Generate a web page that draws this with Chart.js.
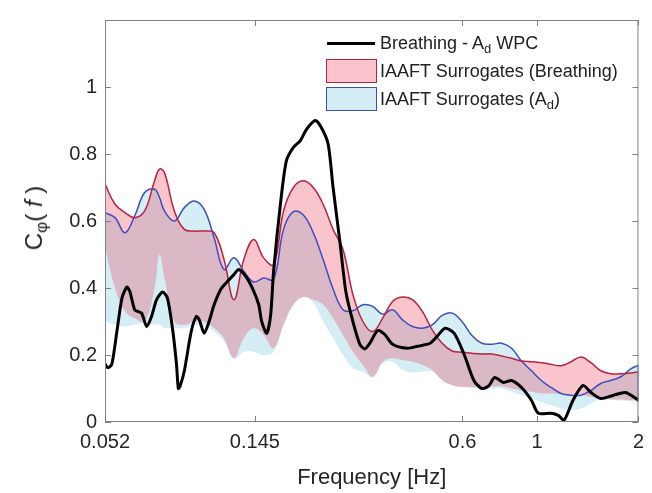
<!DOCTYPE html>
<html>
<head>
<meta charset="utf-8">
<script src="https://cdn.jsdelivr.net/npm/chart.js@4.4.1/dist/chart.umd.min.js"></script>
<style>
    body { margin: 0; background: #fff; }
    #wrap { position: relative; width: 652px; height: 493px; }
    #ytitle {
        position: absolute; left: 34px; top: 218px;
        transform: translate(-50%, -50%) rotate(-90deg);
        font: 24px "Liberation Sans", Arial, sans-serif; color: #222; white-space: nowrap;
    }
    .leg { position: absolute; font: 18px "Liberation Sans", Arial, sans-serif; color: #222; white-space: nowrap; line-height: 20px; }
    .sw { position: absolute; box-sizing: border-box; }
    sub { font-size: 0.72em; vertical-align: -0.3em; line-height: 0; }
</style>
</head>
<body>
<div id="wrap">
    <canvas id="chart" width="652" height="493"></canvas>
    <div id="ytitle">C<sub>φ</sub>( <i>f</i> )</div>
    <div class="sw" style="left:327px;top:42px;width:48px;height:3px;background:#000"></div>
    <div class="leg" style="left:380px;top:33px">Breathing - A<sub>d</sub> WPC</div>
    <div class="sw" style="left:326px;top:59px;width:51px;height:24px;border:1.5px solid #b8233f;background:rgba(235,60,85,0.3)"></div>
    <div class="leg" style="left:380px;top:61px">IAAFT Surrogates (Breathing)</div>
    <div class="sw" style="left:326px;top:87px;width:51px;height:24px;border:1.5px solid #3c4fc2;background:rgba(135,206,225,0.35)"></div>
    <div class="leg" style="left:380px;top:89px">IAAFT Surrogates (A<sub>d</sub>)</div>
</div>
<script>
// axis ticks
const xTicks = [0.052, 0.145, 0.6, 1, 2];
const xTickLabels = ['0.052', '0.145', '0.6', '1', '2'];
const yTicks = [0, 0.2, 0.4, 0.6, 0.8, 1];
const yTickLabels = ['0', '0.2', '0.4', '0.6', '0.8', '1'];

// frequency grid of the surrogate bands (Hz)
const freq = [0.052, 0.0557, 0.0596, 0.0637, 0.0682, 0.0730, 0.0755, 0.0781, 0.0836, 0.0895,
    0.0958, 0.1025, 0.1097, 0.1174, 0.1256, 0.1344, 0.1439, 0.1540, 0.1648, 0.1764,
    0.1887, 0.2020, 0.2162, 0.2313, 0.2476, 0.2650, 0.2836, 0.3035, 0.3248, 0.3476,
    0.3720, 0.3981, 0.4260, 0.4559, 0.4879, 0.5222, 0.5589, 0.5981, 0.6401, 0.6850,
    0.7331, 0.7846, 0.8396, 0.8986, 0.9617, 1.029, 1.101, 1.179, 1.261, 1.350,
    1.445, 1.546, 1.655, 1.771, 1.895, 2.0];

// IAAFT surrogates (Breathing): upper / lower bound
const redUpper = [0.71, 0.65, 0.625, 0.61, 0.63, 0.72, 0.755, 0.745, 0.63, 0.575,
    0.57, 0.57, 0.565, 0.485, 0.365, 0.485, 0.545, 0.49, 0.47, 0.63,
    0.70, 0.72, 0.70, 0.65, 0.575, 0.515, 0.38, 0.30, 0.27, 0.31,
    0.36, 0.373, 0.365, 0.33, 0.275, 0.235, 0.212, 0.208, 0.205, 0.203,
    0.203, 0.197, 0.19, 0.182, 0.18, 0.177, 0.172, 0.168, 0.18, 0.194,
    0.177, 0.153, 0.144, 0.144, 0.146, 0.15];
const redLower = [0.52, 0.40, 0.33, 0.31, 0.30, 0.40, 0.50, 0.43, 0.30, 0.29,
    0.30, 0.30, 0.28, 0.25, 0.19, 0.25, 0.28, 0.26, 0.22, 0.29,
    0.35, 0.373, 0.365, 0.35, 0.31, 0.26, 0.21, 0.17, 0.135, 0.18,
    0.19, 0.185, 0.18, 0.17, 0.155, 0.125, 0.11, 0.105, 0.103, 0.103,
    0.105, 0.107, 0.10, 0.094, 0.09, 0.085, 0.085, 0.083, 0.08, 0.08,
    0.075, 0.07, 0.068, 0.067, 0.065, 0.065];

// IAAFT surrogates (A_d): upper / lower bound
const blueUpper = [0.625, 0.61, 0.565, 0.615, 0.685, 0.695, 0.67, 0.63, 0.60, 0.64,
    0.66, 0.635, 0.55, 0.455, 0.49, 0.45, 0.418, 0.43, 0.425, 0.575,
    0.628, 0.618, 0.565, 0.485, 0.397, 0.335, 0.332, 0.35, 0.345, 0.322,
    0.335, 0.305, 0.285, 0.28, 0.29, 0.318, 0.325, 0.30, 0.258, 0.235,
    0.232, 0.235, 0.22, 0.182, 0.153, 0.124, 0.103, 0.085, 0.08, 0.08,
    0.094, 0.115, 0.124, 0.135, 0.158, 0.17];
const blueLower = [0.30, 0.29, 0.285, 0.29, 0.295, 0.29, 0.29, 0.28, 0.28, 0.28,
    0.29, 0.29, 0.27, 0.24, 0.19, 0.21, 0.21, 0.20, 0.21, 0.29,
    0.35, 0.373, 0.355, 0.30, 0.25, 0.20, 0.16, 0.15, 0.133, 0.175,
    0.18, 0.155, 0.148, 0.15, 0.15, 0.125, 0.11, 0.105, 0.103, 0.10,
    0.10, 0.10, 0.09, 0.08, 0.07, 0.06, 0.05, 0.04, 0.035, 0.04,
    0.055, 0.068, 0.066, 0.064, 0.062, 0.06];

// Breathing - A_d wavelet phase coherence
const wpcFreq = [0.052, 0.0531, 0.0545, 0.0564, 0.0584, 0.0604, 0.0616, 0.0637, 0.0651, 0.0668,
    0.0692, 0.0715, 0.0740, 0.0771, 0.0797, 0.0825, 0.0848, 0.0859, 0.0871, 0.0895,
    0.0938, 0.0971, 0.0991, 0.1025, 0.1060, 0.1097, 0.1150, 0.1198, 0.1256, 0.1299,
    0.1372, 0.1439, 0.1489, 0.1519, 0.1572, 0.1615, 0.1648, 0.1728, 0.1799, 0.1887,
    0.1979, 0.2062, 0.2191, 0.2282, 0.2393, 0.2476, 0.2596, 0.2703, 0.2835, 0.2973,
    0.3075, 0.3182, 0.3359, 0.3522, 0.3719, 0.4117, 0.4407, 0.4813, 0.5047, 0.5328,
    0.5664, 0.6062, 0.6487, 0.6849, 0.7182, 0.7481, 0.7952, 0.8396, 0.8985, 0.9616,
    1.0084, 1.1013, 1.1549, 1.2029, 1.2786, 1.3684, 1.4448, 1.5462, 1.6888, 1.8321, 2.0];
const wpcValue = [0.173, 0.162, 0.173, 0.27, 0.37, 0.403, 0.39, 0.335, 0.33, 0.325,
    0.285, 0.315, 0.365, 0.388, 0.37, 0.28, 0.173, 0.10, 0.11, 0.153,
    0.27, 0.315, 0.305, 0.265, 0.30, 0.35, 0.397, 0.418, 0.44, 0.455,
    0.43, 0.39, 0.35, 0.30, 0.265, 0.32, 0.45, 0.653, 0.78, 0.82,
    0.84, 0.873, 0.90, 0.88, 0.83, 0.70, 0.535, 0.388, 0.30, 0.232,
    0.218, 0.235, 0.273, 0.262, 0.232, 0.22, 0.226, 0.235, 0.256, 0.28,
    0.265, 0.203, 0.124, 0.10, 0.108, 0.133, 0.118, 0.124, 0.103, 0.065,
    0.026, 0.026, 0.02, 0.006, 0.065, 0.109, 0.088, 0.07, 0.08, 0.088, 0.065];

const FONT = '"Liberation Sans", Arial, sans-serif';
const RED = '#b8233f';
const BLUE = '#3c4fc2';

function pts(xs, ys) {
    return xs.map((x, i) => ({ x: x, y: ys[i] }));
}

const last = freq.length - 1;

// box around the plot, MATLAB style ticks pointing inwards
const frame = {
    id: 'frame',
    afterDatasetsDraw(chart) {
        const ctx = chart.ctx;
        const a = chart.chartArea;
        const xs = chart.scales.x, ys = chart.scales.y;
        ctx.save();
        ctx.strokeStyle = '#80808c';
        ctx.lineWidth = 1;
        ctx.strokeRect(a.left + 0.5, a.top + 0.5, a.right - a.left - 1, a.bottom - a.top - 1);
        ctx.beginPath();
        xTicks.forEach(v => {
            const px = Math.round(xs.getPixelForValue(v)) + 0.5;
            ctx.moveTo(px, a.bottom); ctx.lineTo(px, a.bottom - 6);
            ctx.moveTo(px, a.top); ctx.lineTo(px, a.top + 6);
        });
        yTicks.forEach(v => {
            const py = Math.round(ys.getPixelForValue(v)) + 0.5;
            ctx.moveTo(a.left, py); ctx.lineTo(a.left + 6, py);
            ctx.moveTo(a.right, py); ctx.lineTo(a.right - 6, py);
        });
        ctx.stroke();
        ctx.restore();
    }
};

new Chart(document.getElementById('chart').getContext('2d'), {
    type: 'line',
    data: {
        datasets: [
            {
                label: 'Breathing - Ad WPC',
                data: pts(wpcFreq, wpcValue),
                borderColor: '#000', borderWidth: 3, tension: 0.25, fill: false
            },
            {
                label: 'edge left',
                data: [{ x: freq[0], y: blueLower[0] }, { x: freq[0], y: blueUpper[0] }],
                borderColor: BLUE, borderWidth: 1.5, fill: false
            },
            {
                label: 'edge right',
                data: [{ x: freq[last], y: blueLower[last] }, { x: freq[last], y: blueUpper[last] }],
                borderColor: BLUE, borderWidth: 1.5, fill: false
            },
            {
                label: 'IAAFT Surrogates (Breathing)',
                data: pts(freq, redUpper),
                borderColor: RED, borderWidth: 1.5, tension: 0.4,
                backgroundColor: 'rgba(235,60,85,0.3)', fill: { target: 5 }
            },
            {
                label: 'IAAFT Surrogates (Ad)',
                data: pts(freq, blueUpper),
                borderColor: BLUE, borderWidth: 1.5, tension: 0.4,
                backgroundColor: 'rgba(135,206,225,0.35)', fill: { target: 6 }
            },
            { label: 'red low', data: pts(freq, redLower), borderWidth: 0, tension: 0.4, fill: false },
            { label: 'blue low', data: pts(freq, blueLower), borderWidth: 0, tension: 0.4, fill: false }
        ]
    },
    options: {
        responsive: false,
        animation: false,
        devicePixelRatio: 1,
        layout: { padding: { left: 0, top: 13, right: 9, bottom: 0 } },
        elements: { point: { radius: 0 } },
        plugins: {
            legend: { display: false },
            tooltip: { enabled: false },
            filler: { drawTime: 'beforeDatasetsDraw' }
        },
        scales: {
            x: {
                type: 'logarithmic',
                min: 0.052,
                max: 2,
                afterBuildTicks: s => { s.ticks = xTicks.map(v => ({ value: v })); },
                afterFit: s => { s.height = 71; },
                grid: { display: false, drawTicks: false },
                border: { display: false },
                ticks: {
                    callback: (v, i) => xTickLabels[i],
                    autoSkip: false, maxRotation: 0, padding: 8,
                    color: '#262626', font: { family: FONT, size: 20 }
                },
                title: {
                    display: true, text: 'Frequency [Hz]', color: '#262626',
                    font: { family: FONT, size: 22 }, padding: { top: 0, bottom: 2 }
                }
            },
            y: {
                min: 0,
                max: 1.2,
                afterBuildTicks: s => { s.ticks = yTicks.map(v => ({ value: v })); },
                afterFit: s => { s.width = 105; },
                grid: { display: false, drawTicks: false },
                border: { display: false },
                ticks: {
                    callback: (v, i) => yTickLabels[i],
                    padding: 8,
                    color: '#262626', font: { family: FONT, size: 20 }
                }
            }
        }
    },
    plugins: [frame]
});
</script>
</body>
</html>
